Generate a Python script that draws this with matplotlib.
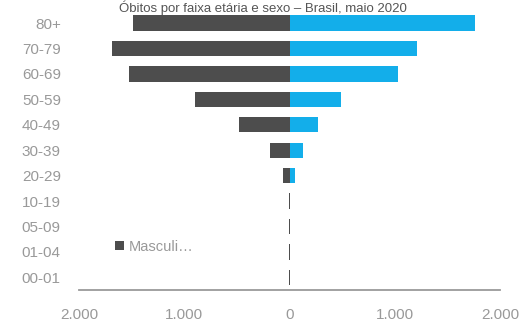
import matplotlib
matplotlib.use("Agg")
import matplotlib.pyplot as plt
from matplotlib.ticker import FuncFormatter

plt.rcParams['font.family'] = ['Liberation Sans', 'DejaVu Sans']

# data (bottom to top)
age_groups = ["00-01", "01-04", "05-09", "10-19", "20-29", "30-39",
              "40-49", "50-59", "60-69", "70-79", "80+"]
male = [3, 2, 2, 5, 67, 190, 484, 902, 1520, 1685, 1490]
female = [3, 2, 2, 5, 48, 124, 266, 484, 1026, 1206, 1757]
x_ticks = [-2000, -1000, 0, 1000, 2000]
title = "Óbitos por faixa etária e sexo – Brasil, maio 2020"

fig = plt.figure(figsize=(5.26, 3.23), dpi=100)
ax = fig.add_axes([0.150, 0.102, 0.801, 0.866])

y = list(range(len(age_groups)))
ax.barh(y, [-m for m in male], height=0.6, color="#4d4d4d", label="Masculi…")
ax.barh(y, female, height=0.6, color="#13aeea", label="_Feminino")

ax.set_xlim(-2000, 2000)
ax.set_ylim(-0.5, 10.5)
ax.set_yticks(y)
ax.set_yticklabels(age_groups)
ax.set_xticks(x_ticks)
ax.xaxis.set_major_formatter(FuncFormatter(lambda v, p: f"{abs(int(v)):,}".replace(",", ".")))
ax.tick_params(axis="both", length=0, colors="#999999", labelsize=11)
ax.tick_params(axis="y", pad=13)
ax.tick_params(axis="x", pad=13)
for s in ["top", "right", "left"]:
    ax.spines[s].set_visible(False)
ax.spines["bottom"].set_color("#9a9a9a")
ax.spines["bottom"].set_linewidth(1.3)

leg = ax.legend(loc="center left", bbox_to_anchor=(0.055, 0.155), frameon=False,
                fontsize=10.5, handlelength=0.6, handleheight=0.6, handletextpad=0.35,
                labelcolor="#999999")

fig.text(0.5, 0.999, title, ha="center", va="top", fontsize=9.5, color="#555555")

fig.savefig("out.png", dpi=100)
